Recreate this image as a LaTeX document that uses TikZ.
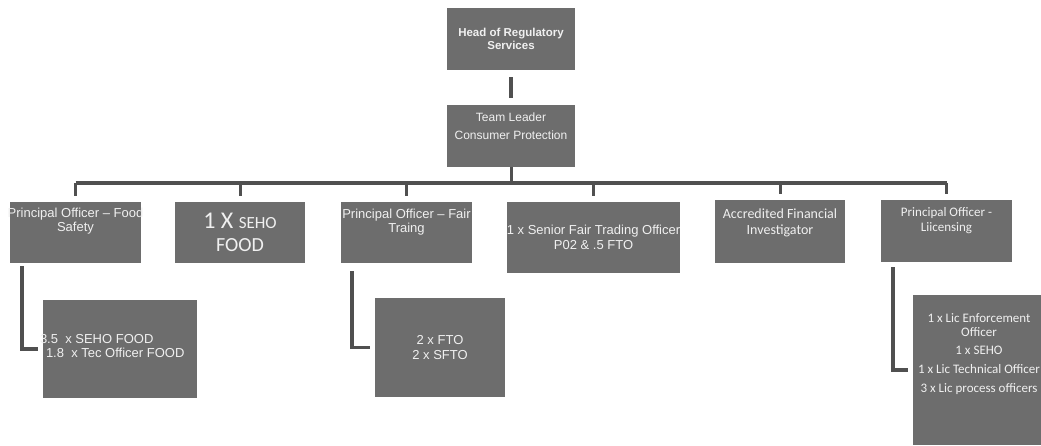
\documentclass[tikz,border=0pt]{standalone}
\usepackage{fontspec}
\setmainfont{Liberation Sans}
\newfontfamily\calib{Carlito}
\usetikzlibrary{positioning,calc}
\definecolor{boxgrey}{HTML}{6D6D6D}
\definecolor{boxtext}{HTML}{F0F0F0}
\definecolor{linegrey}{HTML}{505050}
\newcommand{\arialtext}{\fontsize{13}{14.5}\selectfont}
\newcommand{\headtext}{\bfseries\fontsize{11.5}{13}\selectfont}
\newcommand{\calibtext}{\calib\fontsize{14}{15.5}\selectfont}
\newcommand{\calibsmall}{\calib\fontsize{13}{15}\selectfont}
\newcommand{\topfill}[4]{\parbox[c][#2][t]{#1}{\centering\vspace*{#3}#4\par}}
\newcommand{\wideline}[1]{\makebox[0pt]{#1}}
\tikzset{
  post/.style={fill=boxgrey, text=boxtext, inner sep=0pt, align=center, font=\arialtext},
  spine/.style={draw=linegrey, line width=4pt},
  twig/.style={draw=linegrey, line width=3pt},
  elbow/.style={draw=linegrey, line width=3.5pt, shorten >=5pt}
}
\begin{document}
\begin{tikzpicture}[x=1pt,y=-1pt]
\useasboundingbox[fill=white] (0,0) rectangle (1041,446);
\node[post,font=\headtext,minimum width=128pt,minimum height=62pt] (head) at (511,39) {Head of Regulatory\\Services};
\node[post,font=\fontsize{12}{17.5}\selectfont] (lead) at (511,136) {\topfill{128pt}{62pt}{8pt}{Team Leader\\Consumer Protection}};

\node[post] (pofood) at (75.5,232.5) {\topfill{131pt}{61pt}{6pt}{\wideline{Principal Officer -- Food}\\Safety}};
\node[post,font=\calib\fontsize{20}{23}\selectfont,minimum width=130pt,minimum height=61pt] (seho) at (240,232.5)
  {{\fontsize{24}{23}\selectfont 1 X }{\fontsize{17}{23}\selectfont SEHO}\\FOOD};
\node[post] (pofair) at (406.5,232.5) {\topfill{131pt}{61pt}{7pt}{Principal Officer -- Fair\\Traing}};
\node[post,minimum width=173pt,minimum height=71pt] (sfto) at (593.5,237.5) {1 x Senior Fair Trading Officer\\P02 \& .5 FTO};
\node[post,font=\calibtext] (afi) at (780,231.5) {\topfill{130pt}{63pt}{9pt}{Accredited Financial\\Investigator}};
\node[post,font=\calibsmall] (polic) at (946.5,231) {\topfill{131pt}{62pt}{7pt}{Principal Officer -\\Liicensing}};

\node[post] (foodteam) at (120,349)
  {\parbox[c][98pt][c]{154pt}{\raggedright\hspace*{-3pt}3.5\ \ x SEHO FOOD\\\hspace*{3pt}1.8\ \ x Tec Officer FOOD\vspace*{6pt}}};
\node[post,minimum width=130pt,minimum height=99pt] (fairteam) at (440,347.5) {2 x FTO\\2 x SFTO};
\node[post,font=\calib\fontsize{13}{14}\selectfont] (licteam) at (979,370)
  {\topfill{132pt}{150pt}{19pt}{1 x Lic Enforcement\\Officer\\[4pt]1 x SEHO\\[5pt]1 x Lic Technical Officer\\[5pt]3 x Lic process officers}};

\coordinate (bar) at (511,183);
\draw[spine,shorten <=7pt,shorten >=7pt] (head) -- (lead);
\draw[twig] (lead.south) -- (lead.south |- bar);
\draw[spine] (pofood.north |- bar) -- (polic.north |- bar);
\foreach \n in {pofood,seho,pofair,sfto,afi,polic}
  \draw[twig] (\n.north |- bar) -- ([yshift=6pt]\n.north);

\draw[elbow] ([xshift=12pt,yshift=-3pt]pofood.south west) |- (foodteam.west);
\draw[elbow] ([xshift=11pt,yshift=-8pt]pofair.south west) |- (fairteam.west);
\draw[elbow] ([xshift=12pt,yshift=-5pt]polic.south west) |- (licteam.west);
\end{tikzpicture}
\end{document}
